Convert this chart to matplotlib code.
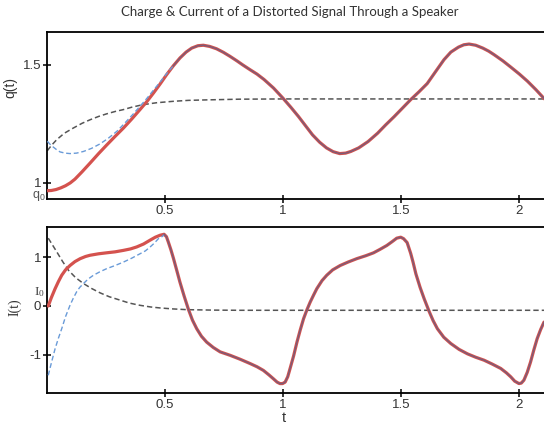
import matplotlib
matplotlib.use('Agg')
import matplotlib.pyplot as plt

plt.rcParams['axes.unicode_minus'] = False
plt.rcParams['font.family'] = ['Liberation Sans', 'DejaVu Sans']

title = "Charge & Current of a Distorted Signal Through a Speaker"
x_ticks = [0.5, 1, 1.5, 2]
x_tick_labels = ["0.5", "1", "1.5", "2"]
q_ticks = [1, 1.5]
q_tick_labels = ["1", "1.5"]
i_ticks = [-1, 0, 1]
i_tick_labels = ["-1", "0", "1"]

# ---- charge q(t): total (red) ----
q_t = [0.003, 0.02, 0.04, 0.06, 0.08, 0.1, 0.12, 0.15, 0.184, 0.22, 0.254, 0.29,
       0.325, 0.36, 0.395, 0.425, 0.452, 0.48, 0.508, 0.536, 0.564, 0.59,
       0.614, 0.64, 0.663, 0.69, 0.719, 0.748, 0.776, 0.805, 0.831, 0.86,
       0.89, 0.92, 0.96, 1.0, 1.033, 1.066, 1.095, 1.125, 1.155, 1.184, 1.212,
       1.24, 1.265, 1.287, 1.32, 1.36, 1.4, 1.434, 1.47, 1.507, 1.54,
       1.575, 1.61, 1.645, 1.681, 1.71, 1.742, 1.765, 1.787, 1.815, 1.845,
       1.87, 1.893, 1.93, 1.963, 2.0, 2.034, 2.07, 2.106]
q_red = [0.967, 0.968, 0.972, 0.979, 0.988, 1.0, 1.016, 1.047, 1.084, 1.124, 1.16, 1.197,
         1.232, 1.27, 1.31, 1.345, 1.38, 1.418, 1.458, 1.495, 1.528, 1.553,
         1.57, 1.58, 1.582, 1.577, 1.567, 1.552, 1.535, 1.516, 1.498, 1.479,
         1.46, 1.437, 1.401, 1.358, 1.32, 1.28, 1.242, 1.203, 1.172, 1.148, 1.132,
         1.124, 1.126, 1.133, 1.148, 1.175, 1.21, 1.245, 1.28, 1.318, 1.352,
         1.385, 1.42, 1.47, 1.521, 1.553, 1.574, 1.584, 1.587, 1.582, 1.570,
         1.557, 1.542, 1.516, 1.49, 1.46, 1.43, 1.394, 1.355]
# steady-state part (blue dashed) before it merges with the total
qb_t = [0.003, 0.015, 0.029, 0.043, 0.057, 0.078, 0.099, 0.127, 0.156, 0.19,
        0.226, 0.26, 0.297, 0.33, 0.367, 0.395, 0.423, 0.452, 0.48, 0.508, 0.536]
q_blue = [1.176, 1.163, 1.151, 1.14, 1.131, 1.126, 1.124, 1.126, 1.133, 1.146,
          1.165, 1.188, 1.218, 1.252, 1.292, 1.324, 1.356, 1.392, 1.426, 1.462, 1.495]
# transient / asymptote (black dashed)
qk_t = [0.003, 0.02, 0.043, 0.075, 0.113, 0.15, 0.184, 0.22, 0.254, 0.29,
        0.325, 0.36, 0.395, 0.43, 0.466, 0.536, 0.6, 0.677, 0.818, 1.0, 2.11]
q_black = [1.136, 1.158, 1.183, 1.21, 1.232, 1.252, 1.267, 1.281, 1.292, 1.302,
           1.31, 1.32, 1.328, 1.334, 1.339, 1.345, 1.349, 1.351, 1.354, 1.355, 1.355]
q0_value = 0.945

# ---- current I(t) ----
i_t = [0.007, 0.02, 0.036, 0.05, 0.064, 0.08, 0.099, 0.12, 0.142, 0.165,
       0.184, 0.22, 0.254, 0.29, 0.325, 0.355, 0.381, 0.41, 0.438, 0.46,
       0.48, 0.497, 0.507, 0.515, 0.526, 0.537, 0.55, 0.564, 0.582, 0.600,
       0.617, 0.635, 0.655, 0.677, 0.705, 0.734, 0.776, 0.818, 0.861, 0.89,
       0.917, 0.94, 0.959, 0.975, 0.987, 0.998, 1.009, 1.02, 1.030, 1.045,
       1.059, 1.073, 1.087, 1.101, 1.115, 1.13, 1.143, 1.165, 1.185, 1.21,
       1.242, 1.275, 1.312, 1.35, 1.383, 1.41, 1.439, 1.462, 1.481, 1.498,
       1.51, 1.525, 1.54, 1.55, 1.562, 1.58, 1.597, 1.618, 1.635, 1.653,
       1.68, 1.710, 1.745, 1.780, 1.815, 1.850, 1.885, 1.921, 1.945, 1.963,
       1.98, 1.998, 2.008, 2.019, 2.033, 2.047, 2.061, 2.075, 2.09, 2.104]
i_red = [0.0, 0.17, 0.355, 0.5, 0.63, 0.74, 0.83, 0.91, 0.97, 1.015,
         1.04, 1.07, 1.09, 1.11, 1.14, 1.17, 1.21, 1.27, 1.35, 1.41,
         1.45, 1.47, 1.42, 1.31, 1.15, 0.97, 0.74, 0.49, 0.2, -0.07,
         -0.29, -0.465, -0.62, -0.74, -0.85, -0.94, -1.01, -1.09, -1.18, -1.245,
         -1.32, -1.41, -1.49, -1.56, -1.59, -1.59, -1.56, -1.45, -1.28, -1.02,
         -0.74, -0.49, -0.26, -0.08, 0.08, 0.23, 0.355, 0.52, 0.63, 0.74,
         0.83, 0.9, 0.97, 1.03, 1.09, 1.16, 1.24, 1.32, 1.39, 1.41,
         1.38, 1.30, 1.08, 0.9, 0.66, 0.38, 0.15, -0.11, -0.3, -0.465,
         -0.64, -0.77, -0.89, -0.98, -1.05, -1.11, -1.19, -1.28, -1.37, -1.45,
         -1.54, -1.59, -1.58, -1.52, -1.36, -1.15, -0.9, -0.67, -0.48, -0.33]
ib_t = [0.007, 0.02, 0.036, 0.05, 0.064, 0.08, 0.099, 0.113, 0.127, 0.14,
        0.156, 0.175, 0.198, 0.225, 0.254, 0.29, 0.325, 0.36, 0.395, 0.418,
        0.438, 0.456, 0.473, 0.491, 0.497]
i_blue = [-1.42, -1.17, -0.875, -0.66, -0.465, -0.22, 0.014, 0.16, 0.29, 0.38,
          0.46, 0.55, 0.63, 0.70, 0.765, 0.83, 0.90, 0.98, 1.07, 1.13,
          1.21, 1.29, 1.38, 1.43, 1.47]
ik_t = [0.007, 0.025, 0.043, 0.068, 0.093, 0.123, 0.156, 0.19, 0.226, 0.265,
        0.311, 0.35, 0.395, 0.44, 0.480, 0.535, 0.593, 0.7, 0.818, 2.11]
i_black = [1.39, 1.25, 1.11, 0.91, 0.73, 0.58, 0.46, 0.36, 0.27, 0.19,
           0.12, 0.06, 0.014, -0.02, -0.04, -0.06, -0.075, -0.084, -0.088, -0.088]
i0_value = 0.29

RED = '#d4524e'
BLUE = '#6a9bd8'
MIX = '#7b5b78'
GREY = '#555555'

W, H = 544, 428
fig = plt.figure(figsize=(W / 100, H / 100), dpi=100)
left = 47.3 / W
width = 519.4 / W
ax1 = fig.add_axes([left, (H - 199) / H, width, 167 / H])
ax2 = fig.add_axes([left, (H - 393) / H, width, 166 / H])


def style(ax):
    ax.set_xlim(0.003, 2.2)
    for s in ax.spines.values():
        s.set_linewidth(1.3)
        s.set_color('black')
    ax.tick_params(direction='inout', length=6, width=1.1, colors='black',
                   labelcolor='#333333', labelsize=9.5, pad=1.5)
    ax.set_xticks(x_ticks)
    ax.set_xticklabels(x_tick_labels)


# top panel
style(ax1)
ax1.set_ylim(0.932, 1.638)
ax1.set_yticks(q_ticks)
ax1.set_yticklabels(q_tick_labels)
ax1.plot(qk_t, q_black, color=GREY, lw=1.1, dashes=(3.5, 2.0), zorder=2)
ax1.plot(q_t, q_red, color=RED, lw=2.3, solid_capstyle='round',
         solid_joinstyle='round', zorder=3)
ax1.plot(qb_t, q_blue, color=BLUE, lw=1.0, dashes=(3.5, 2.0), zorder=4)
j = q_t.index(qb_t[-1])
ax1.plot(q_t[j:], q_red[j:], color=MIX, lw=1.0, solid_joinstyle='round', zorder=5)
ax1.set_ylabel('q(t)', fontsize=10, color='#333333')
ax1.yaxis.set_label_coords(-0.058, 0.665)
ax1.text(-0.004, q0_value, r'$\mathregular{q_0}$', transform=ax1.get_yaxis_transform(),
         ha='right', va='center', fontsize=9, color='#555555')

# bottom panel
style(ax2)
ax2.set_ylim(-1.783, 1.619)
ax2.set_yticks(i_ticks)
ax2.set_yticklabels(i_tick_labels)
ax2.plot(ik_t, i_black, color=GREY, lw=1.1, dashes=(3.5, 2.0), zorder=2)
ax2.plot(i_t, i_red, color=RED, lw=2.3, solid_capstyle='round',
         solid_joinstyle='round', zorder=3)
ax2.plot(ib_t, i_blue, color=BLUE, lw=1.0, dashes=(3.5, 2.0), zorder=4)
j = i_t.index(ib_t[-1])
ax2.plot(i_t[j:], i_red[j:], color=MIX, lw=1.0, solid_joinstyle='round', zorder=5)
ax2.set_ylabel('I(t)', fontsize=10, color='#333333',
               family=['Liberation Serif', 'DejaVu Serif'])
ax2.yaxis.set_label_coords(-0.049, 0.518)
ax2.text(-0.004, i0_value, r'$\mathregular{I_0}$', transform=ax2.get_yaxis_transform(),
         ha='right', va='center', fontsize=9.5, color='#444444',
         family=['Liberation Serif', 'DejaVu Serif'])
ax2.set_xlabel('t', fontsize=10.5, color='#333333')
ax2.xaxis.set_label_coords(0.456, -0.11)

fig.text(290 / W, 1 - 12 / H, title, ha='center', va='center',
         fontsize=9.5, color='#333333', family=['Lato', 'DejaVu Sans'])

fig.savefig('out.png', dpi=100, facecolor='white')
